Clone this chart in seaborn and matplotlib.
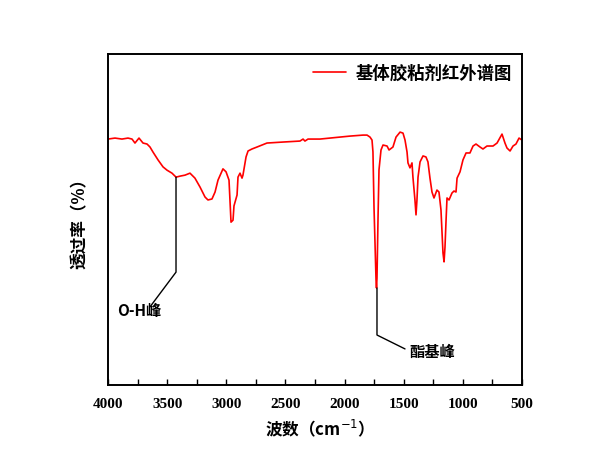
import matplotlib
matplotlib.use("Agg")
import matplotlib.pyplot as plt
import seaborn as sns
import pandas as pd
from matplotlib.ticker import MultipleLocator

# Wavenumber (cm^-1) and transmittance (%)
wavenumber = [4000, 3941, 3882, 3831, 3797, 3772, 3738, 3704, 3670, 3645, 3620, 3577,
              3535, 3501, 3459, 3425, 3391, 3349, 3307, 3265, 3222, 3180, 3155, 3121,
              3095, 3070, 3028, 3002, 2977, 2960, 2943, 2935, 2909, 2901, 2884, 2867,
              2859, 2833, 2816, 2783, 2740, 2656, 2521, 2377, 2351, 2335, 2309, 2208,
              2039, 1954, 1844, 1810, 1785, 1768, 1760, 1751, 1734, 1730, 1726, 1717,
              1709, 1692, 1675, 1641, 1624, 1591, 1565, 1531, 1506, 1489, 1472, 1464,
              1447, 1430, 1422, 1405, 1396, 1388, 1379, 1362, 1337, 1312, 1295, 1278,
              1261, 1244, 1219, 1202, 1185, 1168, 1159, 1151, 1142, 1134, 1117, 1092,
              1075, 1058, 1049, 1024, 999, 973, 940, 914, 889, 855, 830, 796, 745, 711,
              669, 644, 627, 601, 576, 551, 525, 500]
transmittance = [74.3, 74.6, 74.3, 74.6, 74.3, 73.1, 74.6, 73.1, 72.8, 71.9, 70.4, 68.0,
                 65.9, 64.9, 64.0, 62.8, 63.1, 63.4, 64.0, 62.5, 59.8, 56.8, 55.9, 56.2,
                 58.3, 61.9, 65.3, 64.4, 61.9, 49.2, 49.8, 54.1, 57.4, 62.8, 64.0, 62.5,
                 63.4, 68.9, 70.7, 71.3, 71.9, 73.1, 73.4, 73.7, 74.3, 73.7, 74.3, 74.3,
                 74.9, 75.2, 75.5, 75.5, 74.9, 74.0, 70.4, 53.5, 31.7, 29.3, 32.3, 50.8,
                 65.0, 71.0, 72.5, 72.2, 71.0, 71.9, 74.9, 76.4, 76.1, 74.0, 70.4, 67.1,
                 65.6, 67.1, 62.8, 55.9, 51.4, 55.9, 62.8, 67.4, 69.2, 68.9, 67.4, 62.5,
                 58.3, 56.5, 58.9, 58.3, 52.9, 39.9, 37.2, 41.7, 49.8, 56.5, 55.9, 58.0,
                 58.6, 58.3, 62.5, 64.4, 68.0, 70.1, 70.1, 72.2, 72.8, 71.9, 71.3, 72.2,
                 72.2, 73.1, 75.8, 73.1, 71.6, 70.7, 72.2, 72.8, 74.6, 74.0]

series_label = "基体胶粘剂红外谱图"
x_label = "波数（cm$^{-1}$）"
y_label = "透过率（%）"
x_ticks = [4000, 3500, 3000, 2500, 2000, 1500, 1000, 500]

# annotation anchors (wavenumber, transmittance)
oh_label = "O-H峰"
oh_path_x = [3425, 3425, 3645]
oh_path_y = [62.8, 34.1, 23.6]
oh_text = (3920, 22.4)
ester_label = "酯基峰"
ester_path_x = [1726, 1726, 1489]
ester_path_y = [29.3, 15.1, 10.9]
ester_text = (1455, 10.0)

sns.set_style("white")
cjk = ["Noto Sans CJK SC", "DejaVu Sans"]
plt.rcParams["font.family"] = cjk
plt.rcParams["axes.unicode_minus"] = False
plt.rcParams["text.color"] = "black"
plt.rcParams["axes.labelcolor"] = "black"
plt.rcParams["xtick.color"] = "black"
plt.rcParams["ytick.color"] = "black"

df = pd.DataFrame({"wn": wavenumber, "T": transmittance, "s": series_label})

fig = plt.figure(figsize=(6.09, 4.65), dpi=100)
ax = fig.add_axes([108 / 609, 1 - 385 / 465, (522 - 108) / 609, (385 - 54) / 465])

sns.lineplot(data=df, x="wn", y="T", hue="s", palette=["#ff0000"], sort=False,
             estimator=None, linewidth=1.2, ax=ax)

ax.plot(oh_path_x, oh_path_y, color="black", linewidth=1.0)
ax.plot(ester_path_x, ester_path_y, color="black", linewidth=1.0)
ax.text(oh_text[0], oh_text[1], oh_label, ha="left", va="center", fontsize=11,
        fontweight="bold", family=cjk, color="black")
ax.text(ester_text[0], ester_text[1], ester_label, ha="left", va="center", fontsize=11,
        fontweight="bold", family=cjk, color="black")

ax.set_xlim(4000, 500)
ax.set_ylim(0, 100)
ax.set_xticks(x_ticks)
ax.set_xticklabels([str(t) for t in x_ticks], fontsize=11, fontweight="bold",
                   family="Liberation Serif")
ax.xaxis.set_minor_locator(MultipleLocator(250))
ax.tick_params(axis="x", which="both", direction="in", length=4, width=1,
               bottom=True, top=False, pad=9)
ax.set_yticks([])

for sp in ax.spines.values():
    sp.set_color("black")
    sp.set_linewidth(1.4)

ax.set_xlabel(x_label, fontsize=12, fontweight="bold", labelpad=5)
ax.set_ylabel(y_label, fontsize=12, fontweight="bold", labelpad=14)

leg = ax.legend(loc="upper right", frameon=False, fontsize=12.5, handlelength=1.9,
                handletextpad=0.55, borderaxespad=0.2)
for t in leg.get_texts():
    t.set_fontweight("bold")
    t.set_color("black")

fig.savefig("out.png", dpi=100)
